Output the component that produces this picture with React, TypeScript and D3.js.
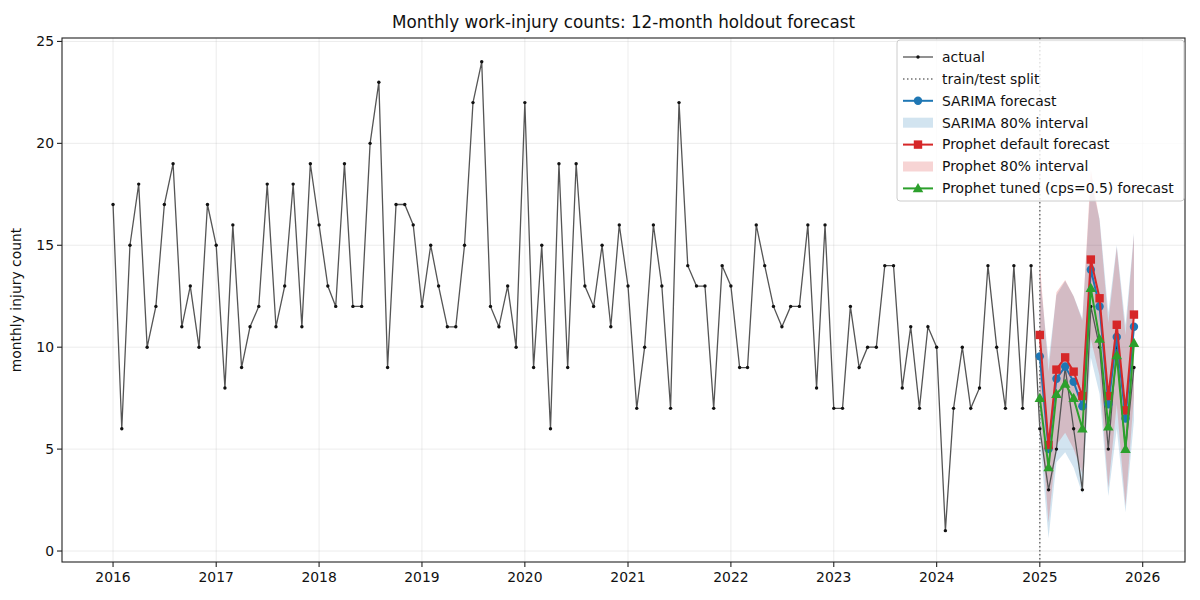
import React from "react";
import * as d3 from "d3";

// monthly counts, Jan 2016 .. Dec 2025
const actual = [
  17, 6, 15, 18, 10, 12, 17, 19, 11, 13, 10, 17,
  15, 8, 16, 9, 11, 12, 18, 11, 13, 18, 11, 19,
  16, 13, 12, 19, 12, 12, 20, 23, 9, 17, 17, 16,
  12, 15, 13, 11, 11, 15, 22, 24, 12, 11, 13, 10,
  22, 9, 15, 6, 19, 9, 19, 13, 12, 15, 11, 16,
  13, 7, 10, 16, 13, 7, 22, 14, 13, 13, 7, 14,
  13, 9, 9, 16, 14, 12, 11, 12, 12, 16, 8, 16,
  7, 7, 12, 9, 10, 10, 14, 14, 8, 11, 7, 11,
  10, 1, 7, 10, 7, 8, 14, 10, 7, 14, 7, 14,
  6, 3, 5, 9, 6, 3, 12, 10, 5, 10, 5, 9,
];

// holdout forecasts, Jan 2025 .. Dec 2025
const sarima = [9.55, 5.0, 8.45, 9.05, 8.3, 7.1, 13.8, 12.0, 7.2, 10.5, 6.5, 11.0];
const sarimaLo = [5.55, 0.63, 4.35, 4.85, 4.1, 2.8, 9.5, 7.7, 2.7, 6.0, 1.9, 6.4];
const sarimaHi = [13.55, 9.35, 12.55, 13.25, 12.5, 11.4, 18.1, 16.3, 11.7, 15.0, 11.1, 15.6];
const prophet = [10.6, 5.2, 8.9, 9.5, 8.8, 7.6, 14.3, 12.4, 7.6, 11.1, 6.9, 11.6];
const prophetLo = [6.9, 1.4, 5.2, 5.8, 5.0, 3.8, 10.4, 8.6, 3.1, 7.2, 2.2, 7.6];
const prophetHi = [14.1, 8.8, 12.7, 13.3, 12.5, 11.3, 18.7, 16.2, 11.2, 14.9, 10.6, 15.5];
const tuned = [7.5, 4.1, 7.7, 8.2, 7.5, 6.0, 12.9, 10.4, 6.1, 9.6, 5.0, 10.2];

const yearTicks = [2016, 2017, 2018, 2019, 2020, 2021, 2022, 2023, 2024, 2025, 2026];
const yTicks = [0, 5, 10, 15, 20, 25];

const W = 1200;
const H = 600;
const margin = { top: 38, right: 15, bottom: 38, left: 62 };
const FONT = "'DejaVu Sans', sans-serif";

const month = (i: number) => new Date(Date.UTC(2016 + Math.floor(i / 12), i % 12, 1));
const dates = actual.map((_, i) => month(i));
const fcDates = sarima.map((_, i) => month(108 + i));
const splitDate = month(108);

export default function App() {
  const t0 = +dates[0];
  const t1 = +dates[dates.length - 1];
  const pad = (t1 - t0) * 0.05;
  const x = d3
    .scaleUtc()
    .domain([new Date(t0 - pad), new Date(t1 + pad)])
    .range([margin.left, W - margin.right]);

  const all = [...actual, ...sarimaLo, ...sarimaHi, ...prophetLo, ...prophetHi];
  const lo = d3.min(all)!;
  const hi = d3.max(all)!;
  const yPad = (hi - lo) * 0.05;
  const y = d3
    .scaleLinear()
    .domain([lo - yPad, hi + yPad])
    .range([H - margin.bottom, margin.top]);

  const line = d3
    .line<[Date, number]>()
    .x((d) => x(d[0]))
    .y((d) => y(d[1]));
  const band = (l: number[], h: number[]) =>
    d3
      .area<number>()
      .x((_, i) => x(fcDates[i]))
      .y0((_, i) => y(l[i]))
      .y1((_, i) => y(h[i]))(l.map((_, i) => i)) || "";

  const pairs = (vals: number[], ds: Date[]) => vals.map((v, i) => [ds[i], v] as [Date, number]);

  const C0 = "#1f77b4";
  const C3 = "#d62728";
  const C2 = "#2ca02c";
  const GREY = "#555";

  const tri = d3.symbol(d3.symbolTriangle, 48)() || "";

  const legendRows = [
    "actual",
    "train/test split",
    "SARIMA forecast",
    "SARIMA 80% interval",
    "Prophet default forecast",
    "Prophet 80% interval",
    "Prophet tuned (cps=0.5) forecast",
  ];
  const lgX = 897;
  const lgY = 40;

  const handle = (i: number, cy: number) => {
    const hx0 = lgX + 6;
    const hx1 = lgX + 36;
    const mx = (hx0 + hx1) / 2;
    switch (i) {
      case 0:
        return (
          <g>
            <line x1={hx0} x2={hx1} y1={cy} y2={cy} stroke={GREY} strokeWidth={1.3} />
            <circle cx={mx} cy={cy} r={1.7} fill="#111" />
          </g>
        );
      case 1:
        return <line x1={hx0} x2={hx1} y1={cy} y2={cy} stroke="#707070" strokeWidth={1.5} strokeDasharray="1.5,2.5" />;
      case 2:
        return (
          <g>
            <line x1={hx0} x2={hx1} y1={cy} y2={cy} stroke={C0} strokeWidth={2} />
            <circle cx={mx} cy={cy} r={4.2} fill={C0} />
          </g>
        );
      case 3:
        return <rect x={hx0} y={cy - 5} width={30} height={10} fill={C0} fillOpacity={0.2} />;
      case 4:
        return (
          <g>
            <line x1={hx0} x2={hx1} y1={cy} y2={cy} stroke={C3} strokeWidth={2} />
            <rect x={mx - 4.2} y={cy - 4.2} width={8.4} height={8.4} fill={C3} />
          </g>
        );
      case 5:
        return <rect x={hx0} y={cy - 5} width={30} height={10} fill={C3} fillOpacity={0.2} />;
      default:
        return (
          <g>
            <line x1={hx0} x2={hx1} y1={cy} y2={cy} stroke={C2} strokeWidth={2} />
            <path d={tri} transform={`translate(${mx},${cy + 0.8})`} fill={C2} />
          </g>
        );
    }
  };

  const plotL = margin.left;
  const plotR = W - margin.right;
  const plotT = margin.top;
  const plotB = H - margin.bottom;

  return (
    <div style={{ position: "absolute", left: 0, top: 0 }}>
      <svg width={W} height={H} style={{ display: "block", background: "#fff" }} fontFamily={FONT}>
        <defs>
          <clipPath id="plot">
            <rect x={plotL} y={plotT} width={plotR - plotL} height={plotB - plotT} />
          </clipPath>
        </defs>

        {/* grid */}
        <g stroke="#b0b0b0" strokeOpacity={0.3} strokeWidth={0.8}>
          {yearTicks.map((yr) => {
            const px = x(new Date(Date.UTC(yr, 0, 1)));
            return <line key={yr} x1={px} x2={px} y1={plotT} y2={plotB} />;
          })}
          {yTicks.map((v) => (
            <line key={v} x1={plotL} x2={plotR} y1={y(v)} y2={y(v)} />
          ))}
        </g>

        <g clipPath="url(#plot)">
          {/* intervals */}
          <path d={band(sarimaLo, sarimaHi)} fill={C0} fillOpacity={0.2} />
          <path d={band(prophetLo, prophetHi)} fill={C3} fillOpacity={0.22} />

          {/* actual series */}
          <path d={line(pairs(actual, dates)) || ""} fill="none" stroke={GREY} strokeWidth={1.3} />
          {actual.map((v, i) => (
            <circle key={i} cx={x(dates[i])} cy={y(v)} r={1.7} fill="#111" />
          ))}

          {/* split */}
          <line
            x1={x(splitDate)}
            x2={x(splitDate)}
            y1={plotT}
            y2={plotB}
            stroke="#707070"
            strokeWidth={1.5}
            strokeDasharray="1.5,2.5"
          />

          {/* SARIMA */}
          <path d={line(pairs(sarima, fcDates)) || ""} fill="none" stroke={C0} strokeWidth={2} />
          {sarima.map((v, i) => (
            <circle key={i} cx={x(fcDates[i])} cy={y(v)} r={4.2} fill={C0} />
          ))}

          {/* Prophet default */}
          <path d={line(pairs(prophet, fcDates)) || ""} fill="none" stroke={C3} strokeWidth={2} />
          {prophet.map((v, i) => (
            <rect key={i} x={x(fcDates[i]) - 4.2} y={y(v) - 4.2} width={8.4} height={8.4} fill={C3} />
          ))}

          {/* Prophet tuned */}
          <path d={line(pairs(tuned, fcDates)) || ""} fill="none" stroke={C2} strokeWidth={2} />
          {tuned.map((v, i) => (
            <path key={i} d={tri} transform={`translate(${x(fcDates[i])},${y(v) + 0.8})`} fill={C2} />
          ))}
        </g>

        {/* spines */}
        <rect x={plotL} y={plotT} width={plotR - plotL} height={plotB - plotT} fill="none" stroke="#222" strokeWidth={1.1} />

        {/* x ticks */}
        {yearTicks.map((yr) => {
          const px = x(new Date(Date.UTC(yr, 0, 1)));
          return (
            <g key={yr}>
              <line x1={px} x2={px} y1={plotB} y2={plotB + 5} stroke="#222" strokeWidth={1.1} />
              <text x={px} y={plotB + 20} textAnchor="middle" fontSize={13.9} fill="#111">
                {yr}
              </text>
            </g>
          );
        })}

        {/* y ticks */}
        {yTicks.map((v) => (
          <g key={v}>
            <line x1={plotL - 5} x2={plotL} y1={y(v)} y2={y(v)} stroke="#222" strokeWidth={1.1} />
            <text x={plotL - 8} y={y(v)} dy="0.35em" textAnchor="end" fontSize={13.9} fill="#111">
              {v}
            </text>
          </g>
        ))}

        <text
          transform={`translate(${21},${(plotT + plotB) / 2}) rotate(-90)`}
          textAnchor="middle"
          fontSize={13.9}
          fill="#111"
        >
          monthly injury count
        </text>

        <text x={(plotL + plotR) / 2} y={28} textAnchor="middle" fontSize={16.8} fill="#111">
          Monthly work-injury counts: 12-month holdout forecast
        </text>

        {/* legend */}
        <g>
          <rect x={lgX} y={lgY} width={287} height={161} rx={3} fill="#fff" fillOpacity={0.8} stroke="#ccc" strokeWidth={1} />
          {legendRows.map((label, i) => {
            const cy = lgY + 17 + i * 21.9;
            return (
              <g key={label}>
                {handle(i, cy)}
                <text x={lgX + 45} y={cy} dy="0.35em" fontSize={13.9} fill="#111">
                  {label}
                </text>
              </g>
            );
          })}
        </g>
      </svg>
    </div>
  );
}
